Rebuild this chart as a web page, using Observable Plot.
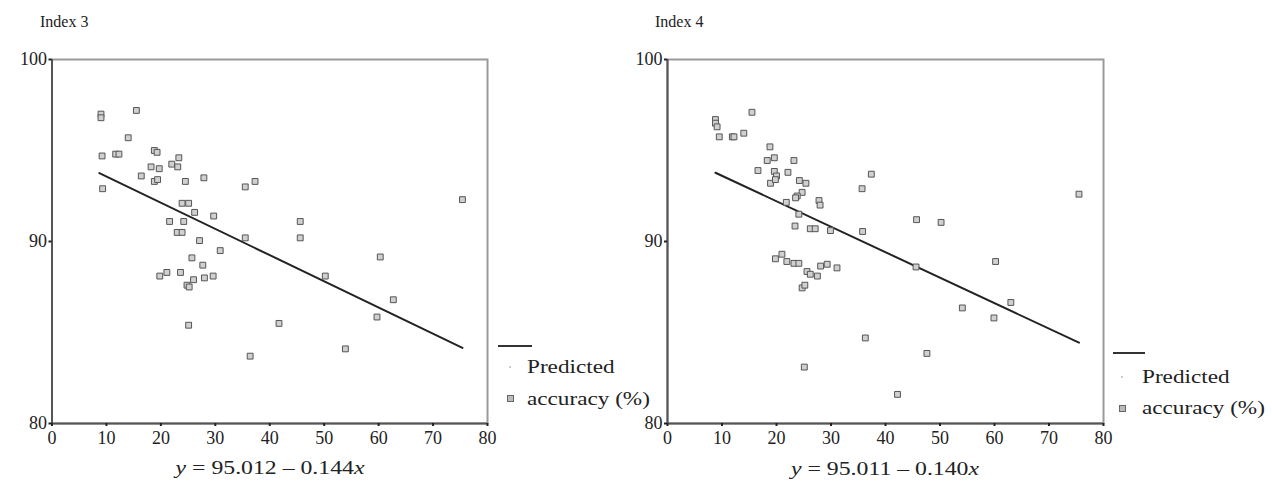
<!DOCTYPE html>
<html>
<head>
<meta charset="utf-8">
<script src="https://cdn.jsdelivr.net/npm/d3@7"></script>
<script src="https://cdn.jsdelivr.net/npm/@observablehq/plot@0.6"></script>
<style>
  html, body { margin: 0; padding: 0; background: #fff; }
  #wrap { position: relative; width: 1272px; height: 487px; overflow: hidden; font-family: "Liberation Serif", serif; color: #222; }
  #wrap svg { position: absolute; top: 0; }
  #wrap svg text { font-family: "Liberation Serif", serif !important; font-size: 18px; }
  .txt { position: absolute; white-space: nowrap; line-height: 1; font-family: "Liberation Serif", serif; }
  .lg { transform-origin: left center; transform: scaleX(1.22); font-size: 19px; }
  .cap { font-size: 19px; transform: translateX(-50%) scaleX(1.25); }
  .seg { position: absolute; height: 0; border-top: 2px solid #333; }
  .tiny { position: absolute; width: 2px; height: 2px; background: #ccc; }
  .sq { position: absolute; width: 5px; height: 5px; background: #bbb; border: 1px solid #666; }
</style>
</head>
<body>
<div id="wrap"></div>
<script>
// ---- data ----
const panels = ["Index 3", "Index 4"];
const xTicks = [0, 10, 20, 30, 40, 50, 60, 70, 80];
const yTicks = [80, 90, 100];
const captions = ["95.012 \u2013 0.144", "95.011 \u2013 0.140"];
const intercepts = [95.012, 95.011];
const slopes = [-0.144, -0.140];
const lineXRange = [[8.7, 75.4], [8.8, 75.5]];

const idx3X = [9, 9, 15.5, 14, 9.2, 11.7, 12.3, 18.8, 19.3, 23.3, 22, 23.1, 18.2, 19.7, 16.4, 18.8, 19.4, 24.5, 27.9, 35.5, 37.3, 9.3, 23.9, 25.1, 26.2, 29.7, 21.6, 24.2, 23, 23.9, 27.1, 35.5, 30.9, 25.7, 27.7, 19.8, 21.1, 23.6, 24.8, 26, 28, 29.6, 25.1, 41.7, 45.6, 45.6, 60.3, 50.2, 62.7, 59.7, 53.9, 36.4, 75.4, 25.2];
const idx3Y = [97.0, 96.8, 97.2, 95.7, 94.7, 94.8, 94.8, 95.0, 94.9, 94.6, 94.25, 94.1, 94.1, 94.0, 93.6, 93.3, 93.4, 93.3, 93.5, 93.0, 93.3, 92.9, 92.1, 92.1, 91.6, 91.4, 91.1, 91.1, 90.5, 90.5, 90.05, 90.2, 89.5, 89.1, 88.7, 88.1, 88.3, 88.3, 87.6, 87.9, 88.0, 88.1, 85.4, 85.5, 91.1, 90.2, 89.15, 88.1, 86.8, 85.85, 84.1, 83.7, 92.3, 87.5];

const idx4X = [8.8, 8.8, 9.1, 9.5, 11.9, 12.2, 14, 15.5, 18.8, 18.3, 19.6, 23.2, 16.6, 19.6, 20, 22.1, 18.9, 19.8, 24.2, 25.4, 24.7, 23.8, 23.5, 27.8, 28.0, 37.4, 35.7, 21.8, 24.1, 23.4, 26.2, 27.1, 29.9, 35.8, 19.8, 21, 21.9, 23.2, 24.1, 25.6, 26.2, 27.5, 28.1, 29.3, 31.1, 24.7, 25.2, 36.3, 25.1, 42.2, 60.2, 63, 54.1, 59.9, 47.6, 45.6, 45.7, 50.2, 75.5];
const idx4Y = [96.7, 96.5, 96.3, 95.75, 95.75, 95.75, 95.95, 97.1, 95.2, 94.45, 94.6, 94.45, 93.9, 93.85, 93.6, 93.8, 93.2, 93.4, 93.35, 93.2, 92.7, 92.5, 92.4, 92.25, 92.0, 93.7, 92.9, 92.15, 91.5, 90.85, 90.7, 90.7, 90.6, 90.55, 89.05, 89.3, 88.9, 88.8, 88.8, 88.35, 88.2, 88.1, 88.65, 88.75, 88.55, 87.45, 87.6, 84.7, 83.1, 81.6, 88.9, 86.65, 86.35, 85.8, 83.85, 88.6, 91.2, 91.05, 92.6];

const series = [
  idx3X.map((x, i) => ({x, y: idx3Y[i]})),
  idx4X.map((x, i) => ({x, y: idx4Y[i]}))
];

// ---- layout ----
const layouts = [
  {left: 0, width: 636, ml: 51.5, mr: 149, title: [40, 14], cap: [270, 458],
   seg: [498, 345, 34], tiny: [509, 366], sq: [507, 395], t1: [527, 357], t2: [527, 389]},
  {left: 560, width: 712, ml: 107, mr: 169, title: [655, 14], cap: [885, 459],
   seg: [1113, 352, 32], tiny: [1121, 376], sq: [1119, 405], t1: [1142, 367], t2: [1142, 398]}
];

const wrap = document.getElementById("wrap");

panels.forEach((name, k) => {
  const L = layouts[k];
  const a = intercepts[k], b = slopes[k];
  const lineData = lineXRange[k].map(x => ({x, y: a + b * x}));
  const chart = Plot.plot({
    width: L.width,
    height: 487,
    marginLeft: L.ml,
    marginRight: L.mr,
    marginTop: 59,
    marginBottom: 64,
    style: {fontFamily: "'Liberation Serif', serif", fontSize: "18px", background: "transparent", color: "#222", overflow: "visible"},
    x: {domain: [0, 80], ticks: xTicks},
    y: {domain: [80, 100], ticks: yTicks},
    marks: [
      Plot.frame({stroke: "#9a9a9a", strokeWidth: 2}),
      Plot.ruleX([0], {stroke: "#555", strokeWidth: 2}),
      Plot.ruleY([80], {stroke: "#555", strokeWidth: 2}),
      Plot.axisX({ticks: xTicks, tickSize: 3, tickPadding: 5, label: null, stroke: "#222", strokeWidth: 2, fill: "#222"}),
      Plot.axisY({ticks: yTicks, tickSize: 3, tickPadding: 2, label: null, stroke: "#222", strokeWidth: 2, fill: "#222"}),
      Plot.line(lineData, {x: "x", y: "y", stroke: "#222", strokeWidth: 2}),
      Plot.dot(series[k], {x: "x", y: "y", symbol: "square", r: 3.3, stroke: "#555", strokeWidth: 1, fill: "#d0d0d0"})
    ]
  });
  chart.style.left = L.left + "px";
  wrap.appendChild(chart);

  const t = document.createElement("div");
  t.className = "txt";
  t.style.left = L.title[0] + "px"; t.style.top = L.title[1] + "px"; t.style.fontSize = "16px";
  t.textContent = name;
  wrap.appendChild(t);

  const c = document.createElement("div");
  c.className = "txt cap";
  c.style.left = L.cap[0] + "px"; c.style.top = L.cap[1] + "px";
  c.innerHTML = "<i>y</i> = " + captions[k] + "<i>x</i>";
  wrap.appendChild(c);

  const s = document.createElement("div");
  s.className = "seg";
  s.style.left = L.seg[0] + "px"; s.style.top = L.seg[1] + "px"; s.style.width = L.seg[2] + "px";
  wrap.appendChild(s);

  const d = document.createElement("div");
  d.className = "tiny";
  d.style.left = L.tiny[0] + "px"; d.style.top = L.tiny[1] + "px";
  wrap.appendChild(d);

  const q = document.createElement("div");
  q.className = "sq";
  q.style.left = L.sq[0] + "px"; q.style.top = L.sq[1] + "px";
  wrap.appendChild(q);

  const l1 = document.createElement("div");
  l1.className = "txt lg";
  l1.style.left = L.t1[0] + "px"; l1.style.top = L.t1[1] + "px";
  l1.textContent = "Predicted";
  wrap.appendChild(l1);

  const l2 = document.createElement("div");
  l2.className = "txt lg";
  l2.style.left = L.t2[0] + "px"; l2.style.top = L.t2[1] + "px";
  l2.textContent = "accuracy (%)";
  wrap.appendChild(l2);
});
</script>
</body>
</html>
